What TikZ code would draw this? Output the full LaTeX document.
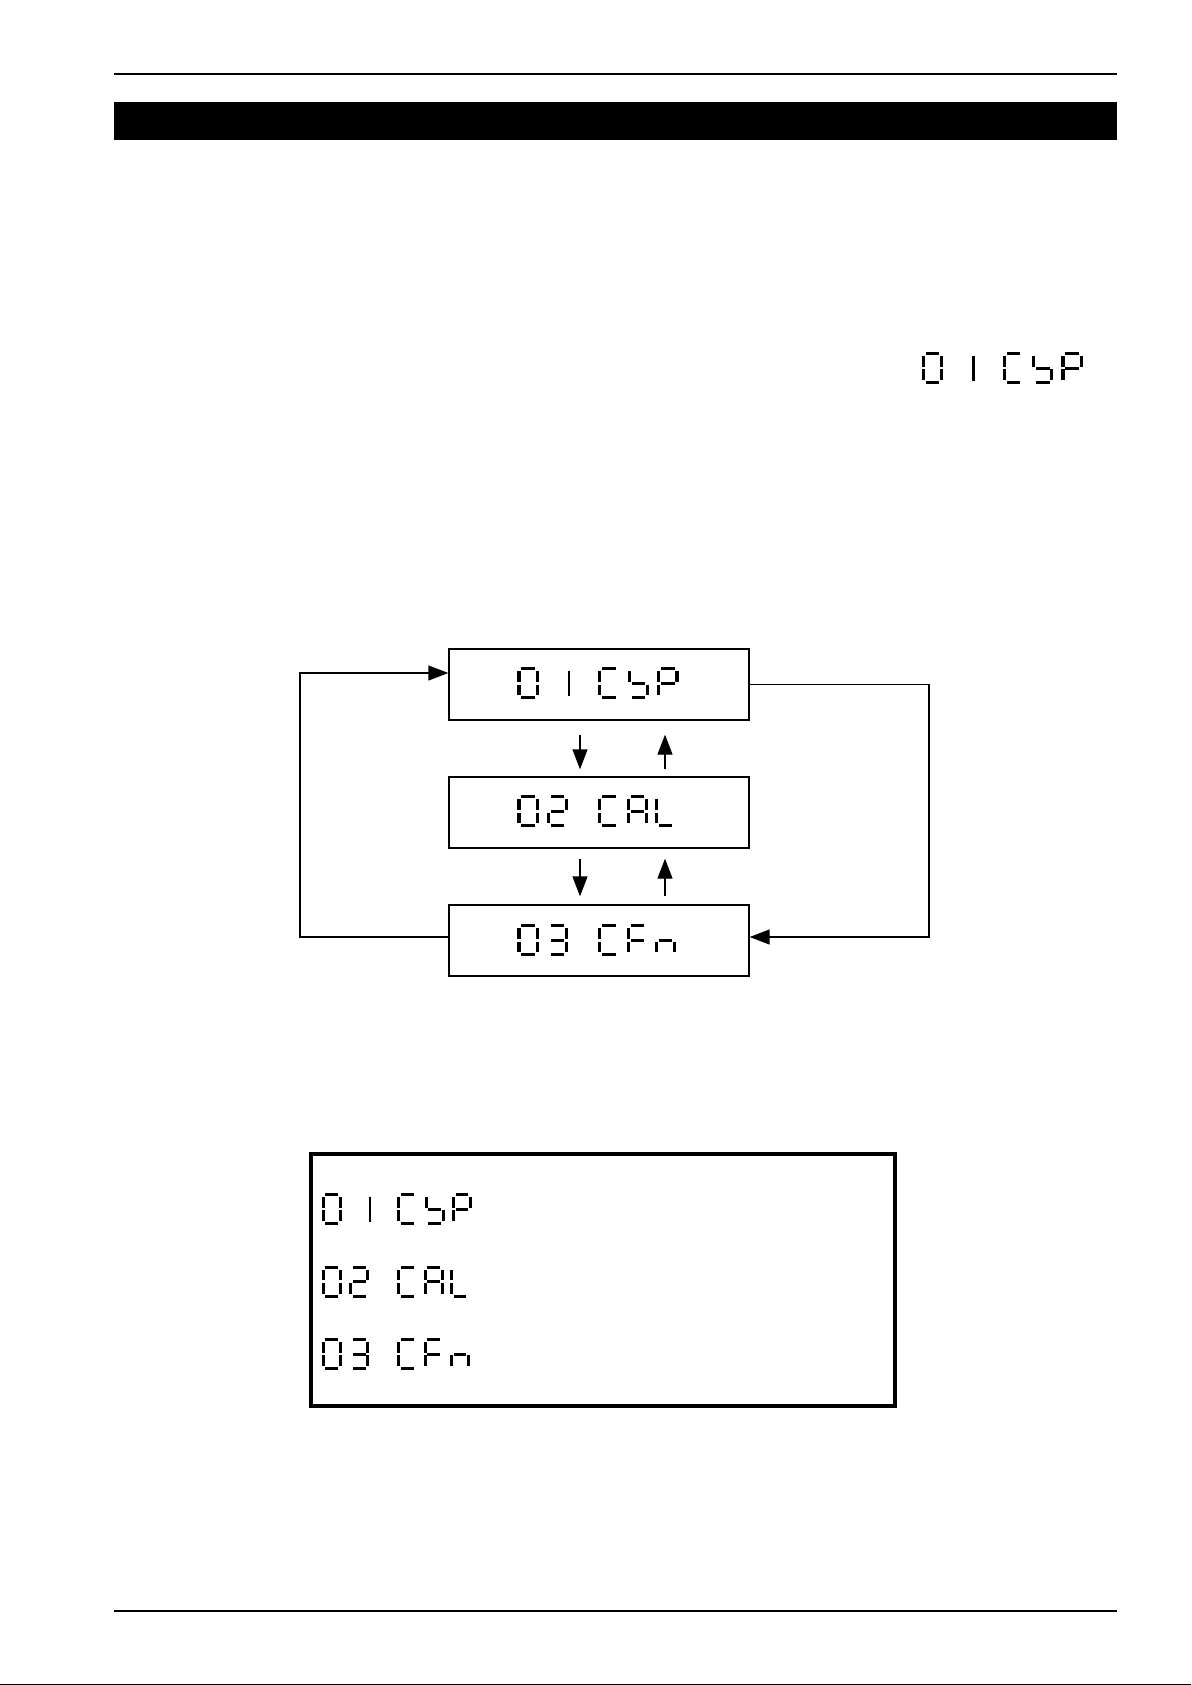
\documentclass[tikz,border=0pt]{standalone}
\usetikzlibrary{arrows.meta,calc}

% seven segment parts, local units, y downwards
\newcommand\sega{\fill (3.8,0) rectangle (16.7,3);}
\newcommand\segb{\fill (17.5,4) rectangle (20.5,14.8);}
\newcommand\segc{\fill (17.5,17.4) rectangle (20.5,28);}
\newcommand\segd{\fill (3.8,29) rectangle (16.7,32);}
\newcommand\sege{\fill (0,17.4) rectangle (3,28);}
\newcommand\segf{\fill (0,4) rectangle (3,14.8);}
\newcommand\segg{\fill (3.8,14.6) rectangle (16.7,17.6);}
\newcommand\segi{\fill (17.8,3.5) rectangle (20.5,28.5);}
\newcommand\lcdchar[2]{\begin{scope}[shift={(#1,0)}]\foreach \s in {#2}{\csname seg\s\endcsname}\end{scope}}
\newcommand\lcdCSP{\lcdchar{0}{a,b,c,d,e,f}\lcdchar{30}{i}\lcdchar{77}{a,d,e,f}\lcdchar{105}{c,d,f,g}\lcdchar{133}{a,b,e,f,g}}
\newcommand\lcdCAL{\lcdchar{0}{a,b,c,d,e,f}\lcdchar{28}{a,b,d,e,g}\lcdchar{77}{a,d,e,f}\lcdchar{104}{a,b,c,e,f,g}\lcdchar{131}{d,e,f}}
\newcommand\lcdCFn{\lcdchar{0}{a,b,c,d,e,f}\lcdchar{28}{a,b,c,d,g}\lcdchar{77}{a,d,e,f}\lcdchar{104}{a,e,f,g}\lcdchar{131}{c,e,g}}

\tikzset{
	lcdbox/.style={draw, line width=1.3pt, minimum width=300pt, minimum height=71pt, inner sep=0pt, text opacity=0},
	lcdtext/.style={inner sep=0pt, text opacity=0, font=\Large},
	flow/.style={line width=1.3pt},
	tip/.style={-{Triangle[length=20pt,width=15pt]}},
}

\begin{document}
\begin{tikzpicture}[x=1pt,y=-1pt]
	\useasboundingbox (0,0) rectangle (1191,1685);
	
	% page head
	\draw[line width=2pt] (114,74) -- (1117,74);
	\fill (114,102) rectangle (1117,140);
	
	% display shown in the text
	\node[lcdtext] (disp) at (1002,368) {01 CSP};
	\begin{scope}[shift={(921.7,352)},xscale=1.05] \lcdCSP \end{scope}
	
	% menu loop
	\node[lcdbox] (csp) at (599,684.5) {01 CSP};
	\node[lcdbox] (cal) at (599,812.5) {02 CAL};
	\node[lcdbox] (cfn) at (599,940.5) {03 CFn};
	\begin{scope}[shift={($(csp.north west)+(69,19)$)},xscale=1.05] \lcdCSP \end{scope}
	\begin{scope}[shift={($(cal.north west)+(69,19)$)},xscale=1.05] \lcdCAL \end{scope}
	\begin{scope}[shift={($(cfn.north west)+(69,20)$)},xscale=1.05] \lcdCFn \end{scope}
	
	\coordinate (lft) at (300,0);
	\coordinate (rgt) at (929,0);
	\coordinate (dn) at (580,0);
	\coordinate (up) at (665,0);
	\coordinate (cfnout) at ([yshift=3.5pt]cfn.west);
	\coordinate (cfnin) at ([yshift=3.5pt]cfn.east);
	\coordinate (cspin) at ([yshift=11.5pt]csp.west);
	
	\draw[flow,tip] (cfnout) -- (cfnout -| lft) |- (cspin);
	\draw[flow,tip] (csp.east) -| (rgt |- cfnin) -- (cfnin);
	
	\draw[flow,tip,shorten <=14pt,shorten >=7pt] (csp.south -| dn) -- (cal.north -| dn);
	\draw[flow,tip,shorten <=7pt,shorten >=14pt] (cal.north -| up) -- (csp.south -| up);
	\draw[flow,tip,shorten <=10pt,shorten >=8pt] (cal.south -| dn) -- (cfn.north -| dn);
	\draw[flow,tip,shorten <=8pt,shorten >=10pt] (cfn.north -| up) -- (cal.south -| up);
	
	% menu list
	\draw[line width=4pt] (311,1154) rectangle (895,1406);
	\node[lcdtext,anchor=west] (row1) at (321,1209) {01 CSP};
	\node[lcdtext,anchor=west] (row2) at (321,1282) {02 CAL};
	\node[lcdtext,anchor=west] (row3) at (321,1354) {03 CFn};
	\begin{scope}[shift={(321.7,1193)},xscale=0.98] \lcdCSP \end{scope}
	\begin{scope}[shift={(321.7,1265.5)},xscale=0.98] \lcdCAL \end{scope}
	\begin{scope}[shift={(321.7,1338)},xscale=0.98] \lcdCFn \end{scope}
	
	% page foot
	\draw[line width=2pt] (114,1611) -- (1117,1611);
	\draw[line width=1pt] (0,1684.5) -- (1191,1684.5);
\end{tikzpicture}
\end{document}
